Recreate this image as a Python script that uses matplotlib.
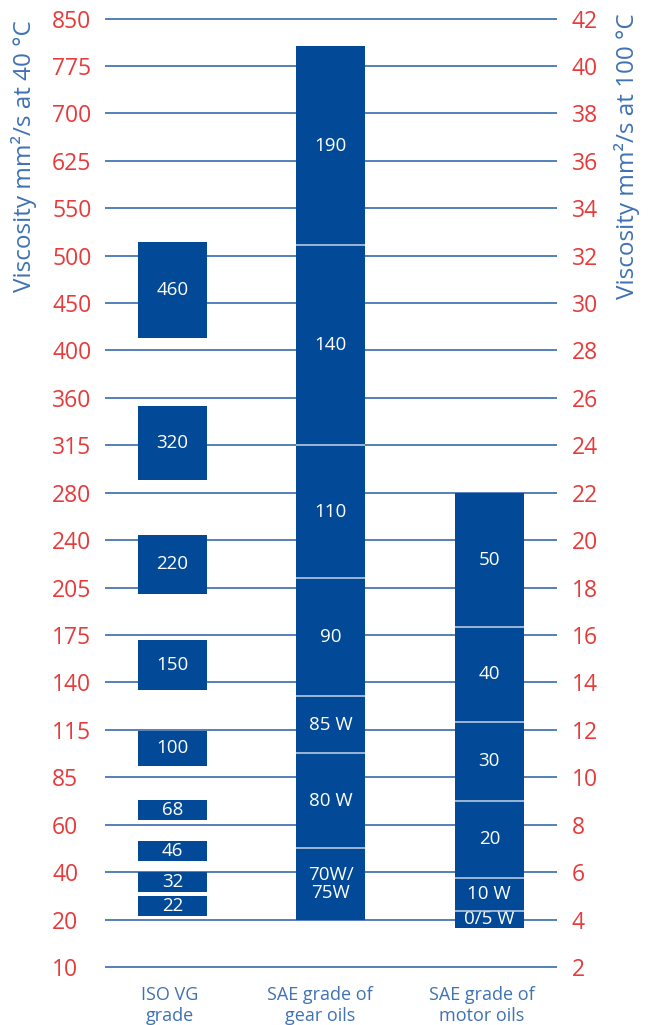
import matplotlib
matplotlib.use("Agg")
from matplotlib import pyplot as plt

plt.rcParams['font.family'] = ['Open Sans', 'DejaVu Sans']

# Posição no eixo (viscosidade a 100 °C) e rótulos do eixo esquerdo (40 °C)
right_ticks = [2, 4, 6, 8, 10, 12, 14, 16, 18, 20, 22, 24, 26, 28, 30, 32, 34, 36, 38, 40, 42]
left_labels = ['10', '20', '40', '60', '85', '115', '140', '175', '205', '240', '280',
               '315', '360', '400', '450', '500', '550', '625', '700', '775', '850']

categories = ['ISO VG\ngrade', 'SAE grade of\ngear oils', 'SAE grade of\nmotor oils']

# ISO VG (faixas independentes)
iso_low = [4.15, 5.18, 6.47, 8.20, 10.49, 13.70, 17.75, 22.52, 28.51]
iso_high = [5.00, 6.01, 7.32, 9.05, 11.97, 15.80, 20.23, 25.67, 32.59]
iso_names = ['22', '32', '46', '68', '100', '150', '220', '320', '460']

# SAE engrenagens (limites contínuos)
gear_bounds = [4.0, 7.01, 11.02, 13.41, 18.40, 24.0, 32.46, 40.82]
gear_names = ['70W/\n75W', '80 W', '85 W', '90', '110', '140', '190']

# SAE motor (limites contínuos)
motor_bounds = [3.63, 4.38, 5.74, 9.02, 12.34, 16.36, 22.0]
motor_names = ['0/5 W', '10 W', '20', '30', '40', '50']

BAR = '#024a97'
RED = '#e63b3b'
BLUE_TXT = '#3e72b5'
SEP = '#b9c7de'
width = 0.436

fig = plt.figure(figsize=(6.48, 10.25), dpi=100)
ax = fig.add_axes([105 / 648, 0.045, 452 / 648, 0.9485])
ax.set_ylim(1.5, 42.5)
ax.set_xlim(-0.426, 2.427)

for s in ax.spines.values():
    s.set_visible(False)

ax.set_yticks(right_ticks)
ax.set_yticklabels(left_labels)
ax.grid(axis='y', color='#3a69ad', linewidth=1.2)
ax.set_axisbelow(True)
ax.tick_params(axis='y', length=0, pad=38, labelsize=16.5, labelcolor=RED)
for lab in ax.get_yticklabels():
    lab.set_horizontalalignment('left')

# rótulos das categorias um pouco à esquerda do centro das barras
ax.set_xticks([-0.016, 0.93, 1.954])
ax.set_xticklabels(categories, color=BLUE_TXT, fontsize=13, linespacing=1.2)
ax.tick_params(axis='x', length=0, pad=5)

ax.set_ylabel('Viscosity mm²/s at 40 °C', color=BLUE_TXT, fontsize=17.5)
ax.yaxis.set_label_coords(-0.150, 0.846)

# ISO VG
for lo, hi, nm in zip(iso_low, iso_high, iso_names):
    ax.bar(0, hi - lo, bottom=lo, width=width, color=BAR, zorder=2)
    ax.text(0, (lo + hi) / 2, nm, color='white', ha='center', va='center', fontsize=13.5, zorder=3)


def stacked(x, bounds, names):
    for i, nm in enumerate(names):
        lo, hi = bounds[i], bounds[i + 1]
        ax.bar(x, hi - lo, bottom=lo, width=width, color=BAR, zorder=2)
        ax.text(x, (lo + hi) / 2, nm, color='white', ha='center', va='center',
                fontsize=13.5, linespacing=1.05, zorder=3)
    ax.hlines(bounds[1:-1], x - width / 2, x + width / 2, color=SEP, linewidth=1.2, zorder=3)


stacked(1, gear_bounds, gear_names)
stacked(2, motor_bounds, motor_names)

# Eixo direito (100 °C)
ax2 = ax.twinx()
ax2.set_ylim(ax.get_ylim())
for s in ax2.spines.values():
    s.set_visible(False)
ax2.set_yticks(right_ticks)
ax2.set_yticklabels([str(v) for v in right_ticks])
ax2.tick_params(axis='y', length=0, pad=10.5, labelsize=16.5, labelcolor=RED)
ax2.set_ylabel('Viscosity mm²/s at 100 °C', color=BLUE_TXT, fontsize=17.5)
ax2.yaxis.set_label_coords(1.126, 0.846)

fig.savefig('out.png', dpi=100)
